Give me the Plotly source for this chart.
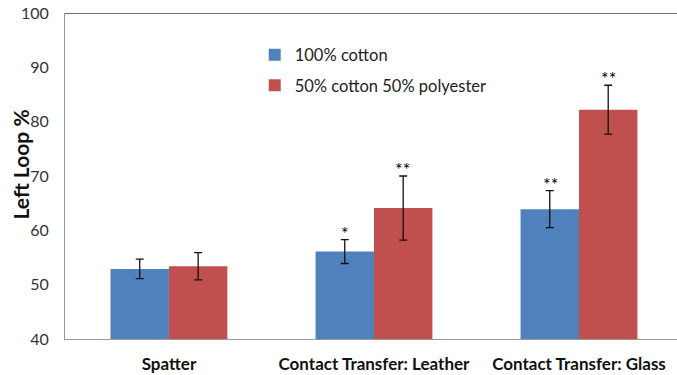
import plotly.graph_objects as go

# Left-loop percentages by deposition method and fabric
categories = ["Spatter", "Contact Transfer: Leather", "Contact Transfer: Glass"]
series_names = ["100% cotton", "50% cotton 50% polyester"]
cotton_values = [52.9, 56.1, 63.9]
cotton_errors = [1.8, 2.2, 3.4]
blend_values = [53.4, 64.1, 82.2]
blend_errors = [2.5, 5.9, 4.5]
cotton_marks = ["", "*", "**"]
blend_marks = ["", "**", "**"]
y_ticks = [40, 50, 60, 70, 80, 90, 100]

BLUE = "#4F81BD"
RED = "#C0504D"
FONT = "Lato, 'Open Sans', sans-serif"

fig = go.Figure()
for name, vals, errs, color, grp in [
    (series_names[0], cotton_values, cotton_errors, BLUE, "a"),
    (series_names[1], blend_values, blend_errors, RED, "b"),
]:
    fig.add_trace(go.Bar(
        x=categories, y=vals, name=name, marker_color=color,
        marker_line_width=0, legendgroup=grp,
        error_y=dict(type="data", array=errs, color="#111111",
                     thickness=1.3, width=4),
    ))

# significance markers above the error bars
annotations = []
for vals, errs, marks, shift in [
    (cotton_values, cotton_errors, cotton_marks, -29),
    (blend_values, blend_errors, blend_marks, 29),
]:
    for cat, v, e, m in zip(categories, vals, errs, marks):
        if m:
            annotations.append(dict(
                x=cat, y=v + e, xref="x", yref="y", text=m, showarrow=False,
                xshift=shift, yshift=7, yanchor="middle",
                font=dict(family=FONT, size=18, color="#000000"),
            ))

annotations.append(dict(
    x=-0.072, y=0.535, xref="paper", yref="paper", text="<b>Left Loop %</b>",
    showarrow=False, textangle=-90, xanchor="center", yanchor="middle",
    font=dict(family=FONT, size=21, color="#111111"),
))

fig.update_layout(
    width=677, height=375,
    margin=dict(l=65, r=0, t=13, b=36),
    paper_bgcolor="white", plot_bgcolor="white",
    barmode="group", bargap=0.43, bargroupgap=0,
    font=dict(family=FONT, color="#222222"),
    annotations=annotations,
    showlegend=True,
    legend=dict(
        x=0.31, y=0.925, xanchor="left", yanchor="top",
        bgcolor="rgba(0,0,0,0)", tracegroupgap=6,
        font=dict(family=FONT, size=16.5, color="#222222"),
        itemwidth=30,
    ),
    xaxis=dict(
        range=[-0.507, 2.478], showline=True, linecolor="#9A9A9A",
        linewidth=1, ticks="", showgrid=False, ticklabelstandoff=10,
        tickfont=dict(family=FONT, size=17, color="#111111"),
        tickprefix="<b>", ticksuffix="</b>",
    ),
    yaxis=dict(
        range=[40, 100], tickvals=y_ticks, showline=True,
        linecolor="#9A9A9A", linewidth=1, ticks="", showgrid=False,
        zeroline=False, ticklabelstandoff=12,
        tickfont=dict(family=FONT, size=16, color="#333333"),
    ),
    shapes=[dict(type="line", xref="paper", yref="y", x0=0, x1=1,
                 y0=100, y1=100, line=dict(color="#404040", width=1.5))],
)

fig.write_html("out.html")
